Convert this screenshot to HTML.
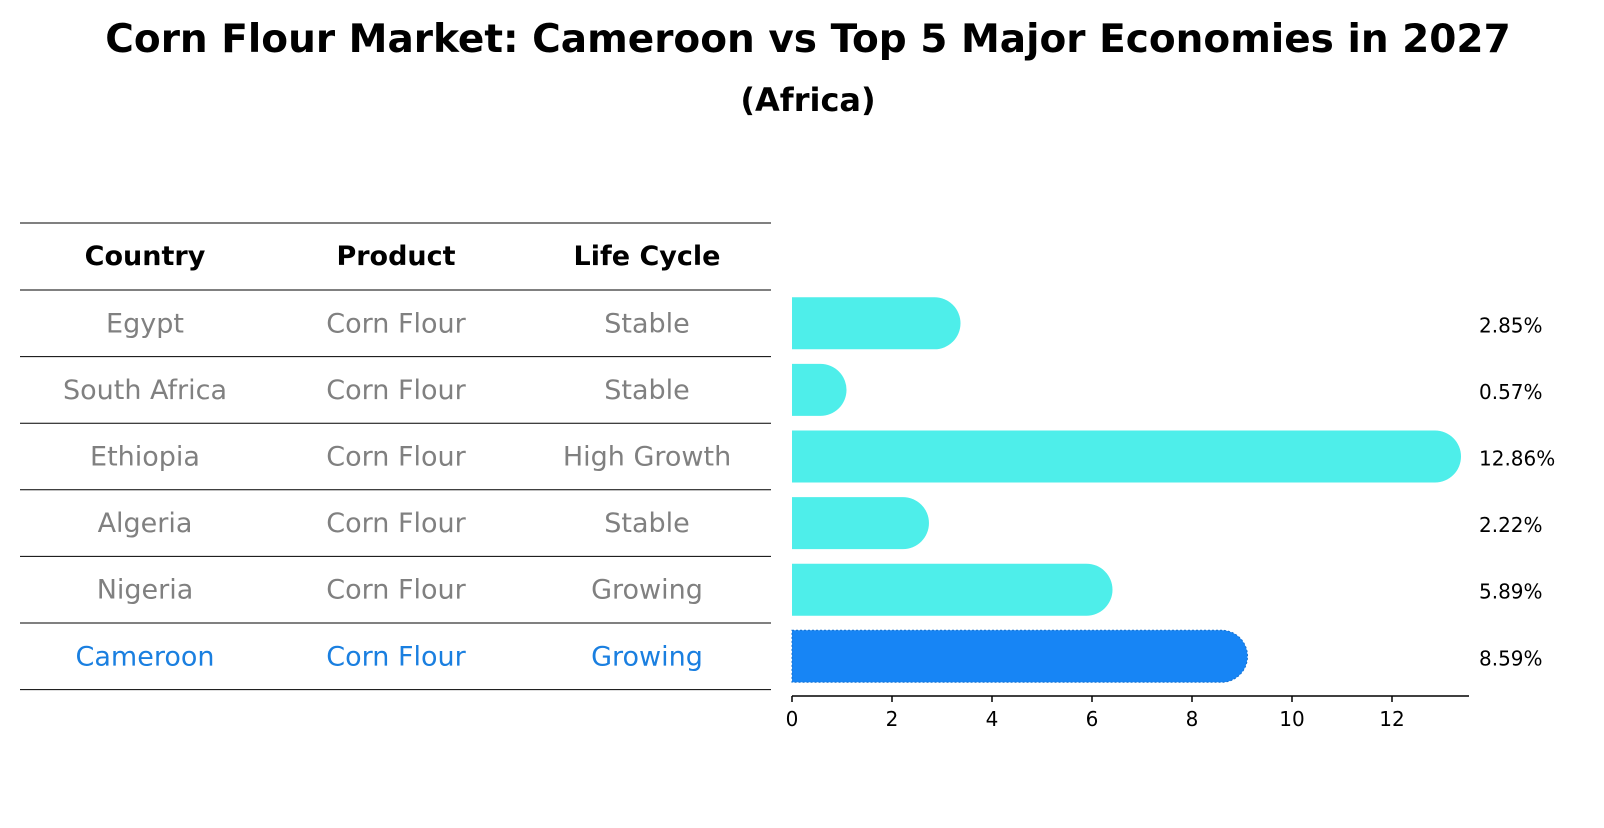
<!DOCTYPE html>
<html><head><meta charset="utf-8"><style>
body{margin:0;background:#fff}
text{font-family:"DejaVu Sans","Liberation Sans",sans-serif}
</style></head><body>
<svg id="chart" width="1604" height="823" xmlns="http://www.w3.org/2000/svg">
<text x="808" y="52" text-anchor="middle" font-size="39" font-weight="bold">Corn Flour Market: Cameroon vs Top 5 Major Economies in 2027</text>
<text x="808" y="111" text-anchor="middle" font-size="32" font-weight="bold">(Africa)</text>
<g id="table"></g>
<g id="bars"></g>
</svg>
<script>
const countries=["Egypt","South Africa","Ethiopia","Algeria","Nigeria","Cameroon"];
const products=["Corn Flour","Corn Flour","Corn Flour","Corn Flour","Corn Flour","Corn Flour"];
const lifeCycles=["Stable","Stable","High Growth","Stable","Growing","Growing"];
const values=[2.85,0.57,12.86,2.22,5.89,8.59];
const xTicks=[0,2,4,6,8,10,12];
const NS="http://www.w3.org/2000/svg";
const tg=document.getElementById('table'),bg=document.getElementById('bars');
function mk(tag,attrs,parent,txt){const e=document.createElementNS(NS,tag);for(const k in attrs)e.setAttribute(k,attrs[k]);if(txt!==undefined)e.textContent=txt;parent.appendChild(e);return e;}
const x0=792,pxPer=50,rowTop=290,rowH=66.6,barH=52;
const xs=v=>x0+v*pxPer;
const yc=i=>rowTop+rowH*(i+0.5);
const colX=[145,396,647];
const lineYs=[223];
for(let i=0;i<=countries.length;i++)lineYs.push(rowTop+rowH*i);
lineYs.forEach(y=>{const l=mk('line',{x1:20,x2:771,y1:y,y2:y,stroke:'#000','stroke-width':1},tg);

});
["Country","Product","Life Cycle"].forEach((h,j)=>{const t=mk('text',{x:colX[j],y:265,'text-anchor':'middle','font-size':27,'font-weight':'bold'},tg,h);

});
countries.forEach((c,i)=>{const col=c==="Cameroon"?'#1a7fe0':'#808080';
[c,products[i],lifeCycles[i]].forEach((v,j)=>{const t=mk('text',{x:colX[j],y:yc(i)+9,'text-anchor':'middle','font-size':27,fill:col},tg,v);

});});
values.forEach((v,i)=>{const y=yc(i)-barH/2,r=barH/2,xe=xs(v);
const hi=countries[i]==="Cameroon";
const d=`M${x0},${y} H${xe} A${r},${r} 0 0 1 ${xe},${y+barH} H${x0} Z`;
const p=mk('path',{d:d,fill:hi?'#1785f5':'#4eeeea',stroke:hi?'#1470d0':'none','stroke-dasharray':hi?'2,2':'none','stroke-width':1},bg);


const t=mk('text',{x:1479,y:yc(i)+9,'font-size':20},bg,v.toFixed(2)+'%');

});
const axY=696;
const ax=mk('line',{x1:x0,x2:1469,y1:axY,y2:axY,stroke:'#000','stroke-width':1.5},bg);


xTicks.forEach(v=>{const l=mk('line',{x1:xs(v),x2:xs(v),y1:axY,y2:axY+6,stroke:'#000','stroke-width':1.5},bg);


const t=mk('text',{x:xs(v),y:axY+30,'text-anchor':'middle','font-size':20},bg,String(v));

});
</script>
</body></html>
